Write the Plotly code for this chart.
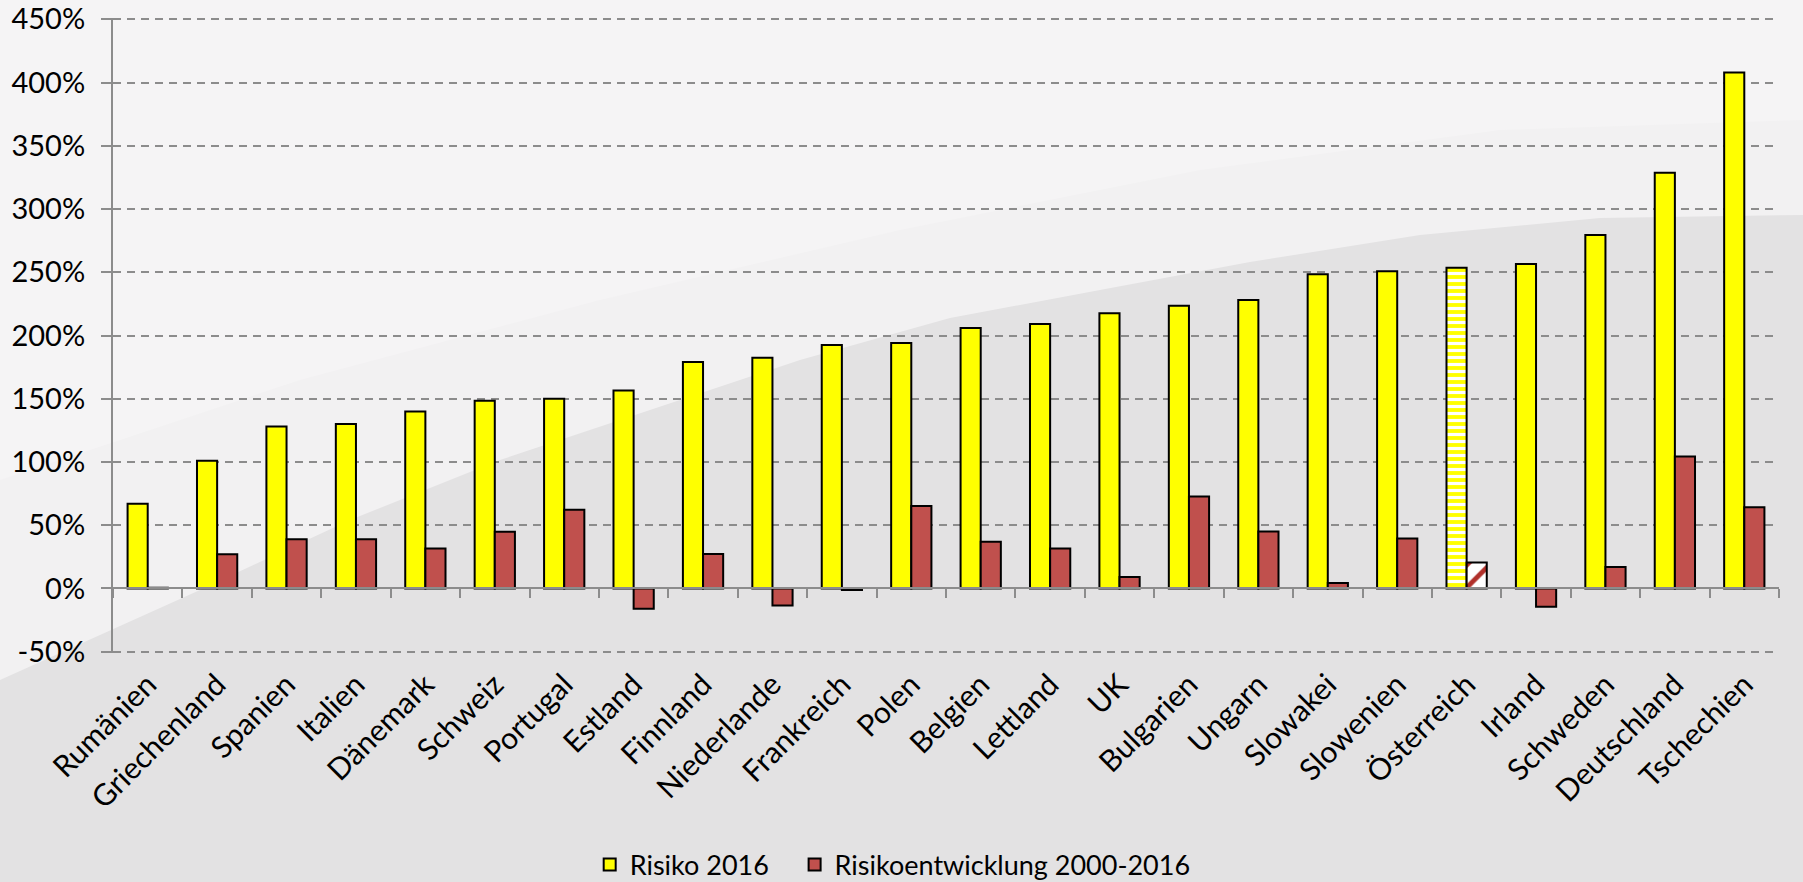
import plotly.graph_objects as go

countries = ["Rumänien", "Griechenland", "Spanien", "Italien", "Dänemark", "Schweiz",
             "Portugal", "Estland", "Finnland", "Niederlande", "Frankreich", "Polen",
             "Belgien", "Lettland", "UK", "Bulgarien", "Ungarn", "Slowakei", "Slowenien",
             "Österreich", "Irland", "Schweden", "Deutschland", "Tschechien"]
risiko_2016 = [67, 101, 128, 130, 140, 148.5, 150, 156.5, 179, 182.5, 192.5, 194,
               206, 209, 217.5, 223.5, 228, 248.5, 250.7, 253.5, 256.5, 279.5, 328.6, 408]
entwicklung = [0.6, 27, 39, 39, 31.6, 44.8, 62.2, -16, 27.2, -13.4, -1.2, 65.3,
               36.9, 31.6, 9, 72.7, 45, 4.3, 39.5, 20.6, -14.5, 17, 104.4, 64.3]
highlight = "Österreich"
y_ticks = list(range(-50, 451, 50))
y_ticktext = [f"{v}%" for v in y_ticks]
y_range = [-51, 451]
series_names = ["Risiko 2016", "Risikoentwicklung 2000-2016"]

W, H = 1803, 882
L, R, T, B = 113, 24, 18, 229
pw, ph = W - L - R, H - T - B

def px(x, y):
    return (x - L) / pw, (H - B - y) / ph

FONT = "Lato"
YELLOW = "#FFFF00"
RED = "#C0504D"
AXIS = "#8C8C8C"

n = len(countries)
y_shape = ["-" if c == highlight else "" for c in countries]
y_fg = ["#FFFFFF" if c == highlight else YELLOW for c in countries]
r_shape = ["/" if c == highlight else "" for c in countries]
r_fg = ["#B0302A" if c == highlight else RED for c in countries]
r_bg = ["#FFFFFF" if c == highlight else RED for c in countries]

fig = go.Figure()
fig.add_trace(go.Bar(
    x=countries, y=risiko_2016, name=series_names[0] + "\u00a0" * 3,
    marker=dict(color=YELLOW, line=dict(color="#000000", width=2),
                pattern=dict(shape=y_shape, fgcolor=y_fg, bgcolor=[YELLOW] * n,
                             size=7, solidity=0.45, fillmode="replace")),
))
fig.add_trace(go.Bar(
    x=countries, y=entwicklung, name=series_names[1],
    marker=dict(color=RED, line=dict(color="#000000", width=2),
                pattern=dict(shape=r_shape, fgcolor=r_fg, bgcolor=r_bg,
                             size=16, solidity=0.3, fillmode="replace")),
))
# helper trace so the zero-line category axis is drawn
fig.add_trace(go.Scatter(x=countries, y=[0] * n, xaxis="x2", mode="none",
                         showlegend=False, hoverinfo="skip"))

# background decoration (light upper area, darker lower area)
def path_from(points):
    s = ""
    for i, (x, y) in enumerate(points):
        fx, fy = px(x, y)
        s += ("M" if i == 0 else " L") + f"{fx:.5f},{fy:.5f}"
    return s + " Z"

shapes = []
light = [(0, 0), (1803, 0), (1803, 215), (1600, 218), (1420, 235), (1250, 262),
         (1100, 290), (950, 318), (800, 360), (650, 410), (500, 460), (350, 520),
         (200, 590), (0, 680)]
shapes.append(dict(type="path", path=path_from(light), xref="paper", yref="paper",
                   fillcolor="#F2F1F2", line=dict(width=0), layer="below"))
lighter = [(0, 0), (1803, 0), (1803, 120), (1500, 130), (1200, 170), (900, 230),
           (600, 300), (300, 380), (0, 480)]
shapes.append(dict(type="path", path=path_from(lighter), xref="paper", yref="paper",
                   fillcolor="#F5F4F5", line=dict(width=0), layer="below"))

zero_pos = (0 - y_range[0]) / (y_range[1] - y_range[0])

fig.update_layout(
    width=W, height=H,
    margin=dict(l=L, r=R, t=T, b=B, pad=0, autoexpand=False),
    paper_bgcolor="#E3E2E3",
    plot_bgcolor="rgba(0,0,0,0)",
    barmode="group", bargap=0.42, bargroupgap=0,
    font=dict(family=FONT, size=27, color="#000000"),
    shapes=shapes,
    showlegend=True,
    legend=dict(orientation="h", x=0.468, xanchor="center", y=(H - B - 865) / ph,
                yanchor="middle", font=dict(family=FONT, size=27),
                bgcolor="rgba(0,0,0,0)", itemwidth=30, traceorder="normal"),
    xaxis=dict(type="category", range=[-0.5, n - 0.5], showline=False, showgrid=False,
               ticks="", tickangle=-45, tickfont=dict(family=FONT, size=30),
               zeroline=False, ticklabelstandoff=7, automargin=False),
    xaxis2=dict(type="category", overlaying="x", anchor="free", position=zero_pos,
                range=[-0.5, n - 0.5], showline=True, linecolor=AXIS, linewidth=2,
                ticks="outside", tickson="boundaries", ticklen=9, tickwidth=2,
                tickcolor=AXIS, showticklabels=False, showgrid=False, zeroline=False),
    yaxis=dict(range=y_range, tickmode="array", tickvals=y_ticks, ticktext=y_ticktext,
               showline=True, linecolor=AXIS, linewidth=2,
               ticks="outside", ticklen=10, tickwidth=2, tickcolor=AXIS,
               showgrid=True, gridcolor=AXIS, gridwidth=2, griddash="8px,6px",
               zeroline=False, tickfont=dict(family=FONT, size=29),
               ticklabelstandoff=10, ticklabeloverflow="allow", automargin=False),
)

fig.write_html("out.html", config={"displayModeBar": False},
               post_script="document.body.style.margin='0';document.body.style.overflow='hidden';")
